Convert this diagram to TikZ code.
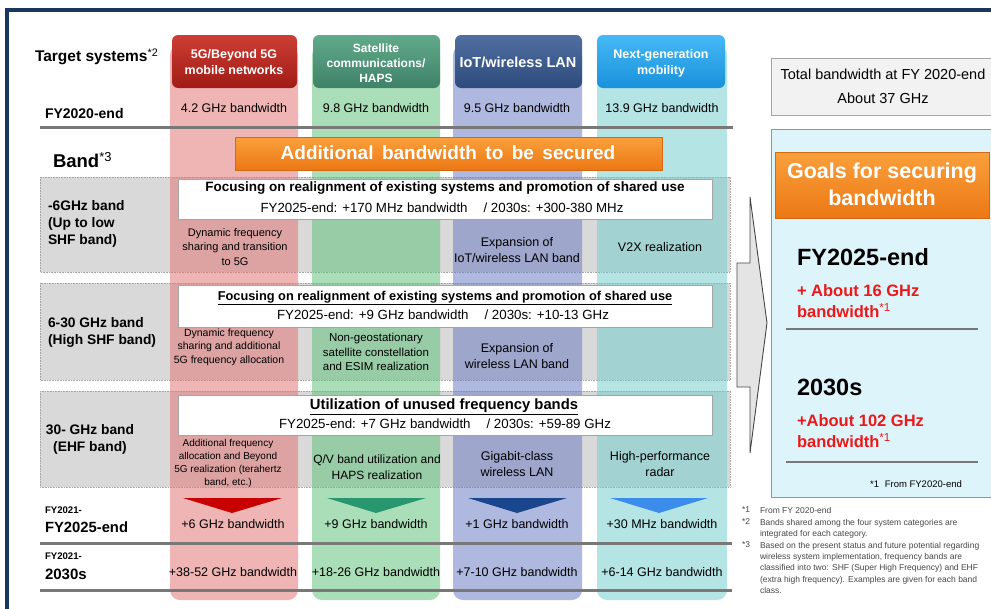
\documentclass[tikz,border=0pt]{standalone}
\usepackage{fontspec}
\setmainfont{Liberation Sans}

\definecolor{frameblue}{RGB}{24,56,96}
\definecolor{hdrredtop}{RGB}{205,62,52}
\definecolor{hdrredbot}{RGB}{160,28,22}
\definecolor{hdrgreentop}{RGB}{98,170,140}
\definecolor{hdrgreenbot}{RGB}{62,130,104}
\definecolor{hdrbluetop}{RGB}{80,110,160}
\definecolor{hdrbluebot}{RGB}{45,75,125}
\definecolor{hdrcyantop}{RGB}{70,185,245}
\definecolor{hdrcyanbot}{RGB}{25,145,220}
\definecolor{bandred}{RGB}{225,120,120}
\definecolor{bandgreen}{RGB}{100,195,125}
\definecolor{bandblue}{RGB}{110,125,195}
\definecolor{bandcyan}{RGB}{120,205,205}
\definecolor{rowgray}{RGB}{217,217,217}
\definecolor{dotgray}{RGB}{165,165,165}
\definecolor{linegray}{RGB}{120,120,120}
\definecolor{orangetop}{RGB}{250,160,60}
\definecolor{orangebot}{RGB}{236,120,20}
\definecolor{orangeedge}{RGB}{210,105,20}
\definecolor{trired}{RGB}{200,0,0}
\definecolor{trigreen}{RGB}{40,150,110}
\definecolor{triblue}{RGB}{25,70,140}
\definecolor{tricyan}{RGB}{60,140,235}
\definecolor{panelfill}{RGB}{222,244,251}
\definecolor{paneledge}{RGB}{80,170,225}
\definecolor{totalfill}{RGB}{242,242,242}
\definecolor{totaledge}{RGB}{165,165,165}
\definecolor{goalred}{RGB}{235,25,25}
\definecolor{notegray}{RGB}{70,70,70}
\definecolor{arrowfill}{RGB}{228,228,228}
\definecolor{arrowedge}{RGB}{70,70,70}

\newcommand{\fsz}[2]{\fontsize{#1}{#2}\selectfont}

\tikzset{every picture/.style={line width=0.75pt}}
\tikzset{
  txt/.style={inner sep=0pt, outer sep=0pt, align=center},
  hdrtxt/.style={txt, text=white, font=\bfseries\fsz{12.5}{16}},
  val/.style={txt, font=\fsz{12.5}{15}},
  cell/.style={txt, font=\fsz{12.5}{15.5}},
  redcell/.style={txt, font=\fsz{11}{14.5}},
  lbl/.style={txt, anchor=west, align=left, font=\bfseries\fsz{13.8}{17}},
  ttl/.style={txt, font=\bfseries\fsz{13.5}{16}},
  sub/.style={txt, font=\fsz{13.3}{16}},
  rowbox/.style={fill=rowgray, draw=dotgray, densely dotted, line width=0.6pt},
  colband/.style={rounded corners=10pt, fill opacity=0.55},
  hdrbox/.style={rounded corners=6pt},
  sepline/.style={draw=linegray, line width=3pt},
  goaltxt/.style={txt, anchor=west, align=left, text=goalred, font=\bfseries\fsz{16.5}{21}},
  yeartxt/.style={txt, anchor=west, font=\bfseries\fsz{23.5}{26}},
  note/.style={txt, anchor=north west, align=left, text=notegray, font=\fsz{8.5}{11.3}},
}

\begin{document}
\begin{tikzpicture}[x=1pt,y=1pt,yscale=-1,xscale=1]
\useasboundingbox (0,0) rectangle (991,608);

%Shape: Frame
\draw [frameblue, line width=4.5pt] (7,612) -- (7,10) -- (996,10);

%Shape: Band rows
\draw [rowbox] (40,177) rectangle (730,272);
\draw [rowbox] (40,283) rectangle (730,380);
\draw [rowbox] (40,391) rectangle (730,487);

%Shape: System columns
\fill [colband, bandred] (170,45) rectangle (298,600);
\fill [colband, bandgreen] (312,45) rectangle (440,600);
\fill [colband, bandblue] (453,45) rectangle (582,600);
\fill [colband, bandcyan] (597,45) rectangle (727,600);

%Shape: Header boxes
\shade [hdrbox, top color=hdrredtop, bottom color=hdrredbot] (172,35) rectangle (297,88);
\shade [hdrbox, top color=hdrgreentop, bottom color=hdrgreenbot] (313,35) rectangle (440,88);
\shade [hdrbox, top color=hdrbluetop, bottom color=hdrbluebot] (455,35) rectangle (582,88);
\shade [hdrbox, top color=hdrcyantop, bottom color=hdrcyanbot] (597,35) rectangle (725,88);

%Shape: Separator lines
\draw [sepline] (40,127) -- (733,127);
\draw [sepline] (40,543) -- (732,543);
\draw [sepline] (40,590) -- (732,590);

%Shape: Banner
\draw [orangeedge, top color=orangetop, bottom color=orangebot] (235,137) rectangle (662,170);

%Shape: Row title boxes
\draw [fill=white, draw=dotgray, line width=0.5pt] (178,179) rectangle (712,219);
\draw [fill=white, draw=dotgray, line width=0.5pt] (178,285) rectangle (712,327);
\draw [fill=white, draw=dotgray, line width=0.5pt] (178,395) rectangle (712,435);

%Shape: Down triangles
\fill [trired] (183,498) -- (282,498) -- (232,513) -- cycle;
\fill [trigreen] (327,498) -- (426,498) -- (376,513) -- cycle;
\fill [triblue] (468,498) -- (567,498) -- (517,513) -- cycle;
\fill [tricyan] (610,498) -- (708,498) -- (659,513) -- cycle;

%Shape: Big arrow
\draw [fill=arrowfill, draw=arrowedge, line width=0.9pt] (737,263) -- (750,263) -- (750,197) -- (767,323) -- (750,453) -- (750,387) -- (737,387) -- cycle;

%Shape: Goal panel
\draw [fill=totalfill, draw=totaledge, line width=1pt] (771,58) rectangle (996,115);
\draw [fill=panelfill, draw=paneledge, line width=1pt] (771,129) rectangle (996,497);
\draw [orangeedge, top color=orangetop, bottom color=orangebot] (775,152) rectangle (989,218);
\draw [sepline, line width=2.5pt] (786,329) -- (978,329);
\draw [sepline, line width=2.5pt] (786,462) -- (978,462);

% Text Node
\draw (35,57) node [txt, anchor=west, font=\bfseries\fsz{15.5}{18}] (tgt) {Target systems\textsuperscript{\mdseries *2}};
% Text Node
\draw (45,113) node [txt, anchor=west, font=\bfseries\fsz{14}{17}] (fy20) {FY2020-end};
% Text Node
\draw (53,160) node [txt, anchor=west, font=\bfseries\fsz{18.5}{20}] (band) {Band\textsuperscript{\mdseries *3}};

% Text Node
\draw (234,62) node [hdrtxt] (h5g) {5G/Beyond 5G\\mobile networks};
% Text Node
\draw (376,63) node [hdrtxt, font=\bfseries\fsz{12}{15}] (hsat) {Satellite\\communications/\\HAPS};
% Text Node
\draw (518,62) node [hdrtxt, font=\bfseries\fsz{14.5}{17}] (hiot) {IoT/wireless LAN};
% Text Node
\draw (661,63) node [hdrtxt] (hmob) {Next-generation\\mobility};

% Text Node
\draw (234,108) node [val] (v5g) {4.2 GHz bandwidth};
% Text Node
\draw (376,108) node [val] (vsat) {9.8 GHz bandwidth};
% Text Node
\draw (517,108) node [val] (viot) {9.5 GHz bandwidth};
% Text Node
\draw (662,108) node [val] (vmob) {13.9 GHz bandwidth};

% Text Node
\draw (448,153) node [txt, text=white, font=\bfseries\fsz{19}{22}] (extra) {Additional\, bandwidth\, to\, be\, secured};

% Text Node
\draw (48,224) node [lbl] (b6) {-6GHz band\\(Up to low\\SHF band)};
% Text Node
\draw (48,332) node [lbl] (b630) {6-30 GHz band\\(High SHF band)};
% Text Node
\draw (90,439) node [lbl, anchor=center, align=center] (b30) {30- GHz band\\(EHF band)};

% Text Node
\draw (445,188) node [ttl] (t1) {Focusing on realignment of existing systems and promotion of shared use};
% Text Node
\draw (442,208) node [sub] (s1) {FY2025-end: +170 MHz bandwidth\hspace{1.2em}/ 2030s: +300-380 MHz};
% Text Node
\draw (445,298) node [ttl, font=\bfseries\fsz{12.8}{15}] (t2) {\underline{Focusing on realignment of existing systems and promotion of shared use}};
% Text Node
\draw (443,315) node [sub] (s2) {FY2025-end: +9 GHz bandwidth\hspace{1.2em}/ 2030s: +10-13 GHz};
% Text Node
\draw (444,407) node [ttl, font=\bfseries\fsz{14.8}{17}] (t3) {\underline{Utilization of unused frequency bands}};
% Text Node
\draw (445,424) node [sub] (s3) {FY2025-end: +7 GHz bandwidth\hspace{1.2em}/ 2030s: +59-89 GHz};

% Text Node
\draw (235,247) node [redcell] (c11) {Dynamic frequency\\sharing and transition\\to 5G};
% Text Node
\draw (517,250) node [cell] (c13) {Expansion of\\IoT/wireless LAN band};
% Text Node
\draw (660,247) node [cell] (c14) {V2X realization};
% Text Node
\draw (229,347) node [redcell, font=\fsz{10.5}{13.5}] (c21) {Dynamic frequency\\sharing and additional\\5G frequency allocation};
% Text Node
\draw (376,352) node [cell, font=\fsz{11.5}{14.5}] (c22) {Non-geostationary\\satellite constellation\\and ESIM realization};
% Text Node
\draw (517,356) node [cell] (c23) {Expansion of\\wireless LAN band};
% Text Node
\draw (228,463) node [redcell, font=\fsz{10}{13}] (c31) {Additional frequency\\allocation and Beyond\\5G realization (terahertz\\band, etc.)};
% Text Node
\draw (377,467) node [cell, font=\fsz{12}{16}] (c32) {Q/V band utilization and\\HAPS realization};
% Text Node
\draw (517,464) node [cell] (c33) {Gigabit-class\\wireless LAN};
% Text Node
\draw (660,464) node [cell] (c34) {High-performance\\radar};

% Text Node
\draw (45,510) node [txt, anchor=west, font=\bfseries\fsz{9.6}{11}] (p1a) {FY2021-};
% Text Node
\draw (45,527) node [txt, anchor=west, font=\bfseries\fsz{14.8}{17}] (p1b) {FY2025-end};
% Text Node
\draw (45,556) node [txt, anchor=west, font=\bfseries\fsz{9.6}{11}] (p2a) {FY2021-};
% Text Node
\draw (45,574) node [txt, anchor=west, font=\bfseries\fsz{15}{17}] (p2b) {2030s};

% Text Node
\draw (233,524) node [val] (g15g) {+6 GHz bandwidth};
% Text Node
\draw (376,524) node [val] (g1sat) {+9 GHz bandwidth};
% Text Node
\draw (517,524) node [val] (g1iot) {+1 GHz bandwidth};
% Text Node
\draw (662,524) node [val] (g1mob) {+30 MHz bandwidth};
% Text Node
\draw (233,572) node [val] (g25g) {+38-52 GHz bandwidth};
% Text Node
\draw (376,572) node [val] (g2sat) {+18-26 GHz bandwidth};
% Text Node
\draw (517,572) node [val] (g2iot) {+7-10 GHz bandwidth};
% Text Node
\draw (662,572) node [val] (g2mob) {+6-14 GHz bandwidth};

% Text Node
\draw (883,86) node [txt, font=\fsz{14.5}{24}] (total) {Total bandwidth at FY 2020-end\\About 37 GHz};
% Text Node
\draw (882,184) node [txt, text=white, font=\bfseries\fsz{21.5}{27}] (goals) {Goals for securing\\bandwidth};
% Text Node
\draw (797,257) node [yeartxt] (y25) {FY2025-end};
% Text Node
\draw (797,301) node [goaltxt] (a25) {+ About 16 GHz\\bandwidth\textsuperscript{\mdseries *1}};
% Text Node
\draw (797,387) node [yeartxt] (y30) {2030s};
% Text Node
\draw (797,431) node [goaltxt] (a30) {+About 102 GHz\\bandwidth\textsuperscript{\mdseries *1}};
% Text Node
\draw (916,484) node [txt, font=\fsz{9.5}{11}] (from) {*1\hspace{0.6em}From FY2020-end};

% Text Node
\draw (742,507) node [note] (n1) {*1};
\draw (760,507) node [note] (n1t) {From FY 2020-end};
% Text Node
\draw (742,519) node [note] (n2) {*2};
\draw (760,519) node [note] (n2t) {Bands shared among the four system categories are\\integrated for each category.};
% Text Node
\draw (742,542) node [note] (n3) {*3};
\draw (760,542) node [note] (n3t) {Based on the present status and future potential regarding\\wireless system implementation, frequency bands are\\classified into two: SHF (Super High Frequency) and EHF\\(extra high frequency). Examples are given for each band\\class.};

\end{tikzpicture}
\end{document}
